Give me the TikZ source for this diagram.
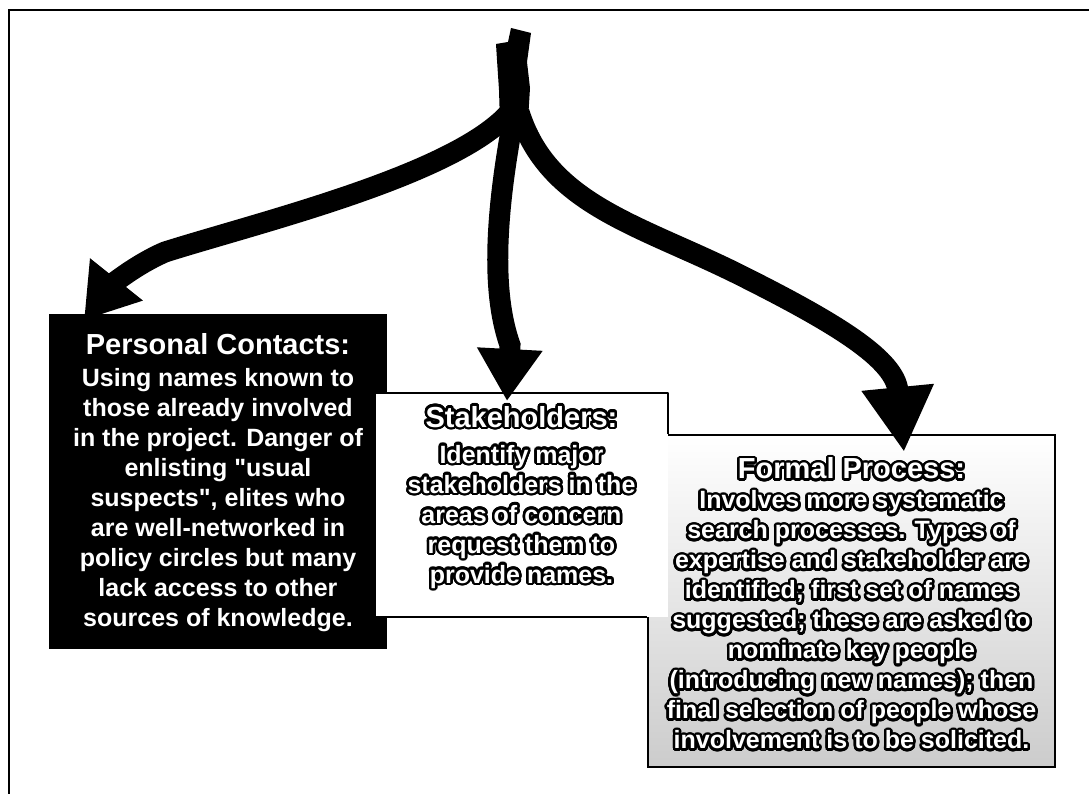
\documentclass[tikz,border=0pt]{standalone}
\usepackage{fontspec}
\setmainfont{Liberation Sans}[Ligatures=TeXOff]
\usepackage[copies]{contour}
\usetikzlibrary{arrows.meta,calc}
\contourlength{2.5pt}
\contournumber{28}
\newcommand\olt[1]{\contour{black}{#1}}
\newcommand\bodyfont{\fontsize{25}{30}\selectfont\bfseries}
\newcommand\titlefont{\fontsize{29}{32}\selectfont\bfseries}
\tikzset{
  frameline/.style={line width=2pt},
  pcbox/.style={rectangle, fill=black, draw=black, line width=2pt, minimum width=336pt, minimum height=333pt, inner sep=0pt},
  shbox/.style={rectangle, fill=white, minimum width=293pt, minimum height=224pt, inner sep=0pt},
  shline/.style={line width=2.5pt, line join=round},
  fpbox/.style={rectangle, draw=black, line width=2.5pt, top color=white, bottom color=black!20, minimum width=407pt, minimum height=332pt, inner sep=0pt},
  plaintext/.style={align=center, inner sep=0pt, text=white, font=\bodyfont, anchor=north},
  outtext/.style={align=center, inner sep=0pt, text=white, font=\bodyfont, anchor=north},
  flow/.style={line width=21pt, line cap=butt, draw=black},
}
\begin{document}
\begin{tikzpicture}[x=1pt,y=-1pt]
\useasboundingbox (0,0) rectangle (1089,794);
\fill[white] (0,0) rectangle (1089,794);
% frame
\draw[frameline] (9,794) -- (9,10) -- (1089,10);

% boxes
\node[fpbox] (fp) at (851.5,601) {};
\node[pcbox] (pc) at (218,481.5) {};
\node[shbox] (sh) at (521.5,505) {};
\draw[shline] (sh.south west) -- (sh.north west) -- (sh.north east) -- (sh.east |- fp.north);
\draw[shline] (sh.south west) -- (fp.west |- sh.south);

% texts
\node[plaintext] (pct) at ($(pc.north)+(0,19)$) {{\titlefont Personal Contacts:}\\[2pt]
Using names known to\\
those already involved\\
in the project. Danger of\\
enlisting "usual\\
suspects", elites who\\
are well-networked in\\
policy circles but many\\
lack access to other\\
sources of knowledge.};

\node[outtext] (sht) at ($(sh.north)+(0,13)$) {{\titlefont\olt{Stakeholders:}}\\[6pt]
\olt{Identify major}\\
\olt{stakeholders in the}\\
\olt{areas of concern}\\
\olt{request them to}\\
\olt{provide names.}};

\node[outtext] (fpt) at ($(fp.north)+(0,24)$) {{\titlefont\olt{Formal Process:}}\\
\olt{Involves more systematic}\\
\olt{search processes. Types of}\\
\olt{expertise and stakeholder are}\\
\olt{identified; first set of names}\\
\olt{suggested; these are asked to}\\
\olt{nominate key people}\\
\olt{(introducing new names); then}\\
\olt{final selection of people whose}\\
\olt{involvement is to be solicited.}};

% arrows
\coordinate (src) at (516,30);
\coordinate (forkL) at (510,112);
\coordinate (forkM) at (514,115);
\coordinate (forkR) at (519,112);
\coordinate (tipL) at (84,320);
\coordinate (tipM) at (507,401);
\coordinate (tipR) at (904,452);
\coordinate (midM) at (510,345);

\fill[black] (496,44) -- (508,42) -- (511,28) -- (531,33) -- (527,62) -- (530,88) -- (528,120)
  -- (500,122) -- (499,90) -- (497,60) -- cycle;

\draw[flow, -{Triangle[length=52pt,width=64pt]}] (forkL) .. controls (455,175) and (260,222) .. (165,252)
  .. controls (135,265) and (112,285) .. (tipL);
\draw[flow, -{Triangle[length=52pt,width=62pt]}] (forkM) .. controls (492,230) and (494,300) .. (midM) -- (tipM);
\draw[flow, -{Triangle[length=65pt,width=68pt]}] (forkR) .. controls (548,205) and (640,225) .. (740,275)
  .. controls (840,325) and (895,360) .. (tipR);
\end{tikzpicture}
\end{document}
